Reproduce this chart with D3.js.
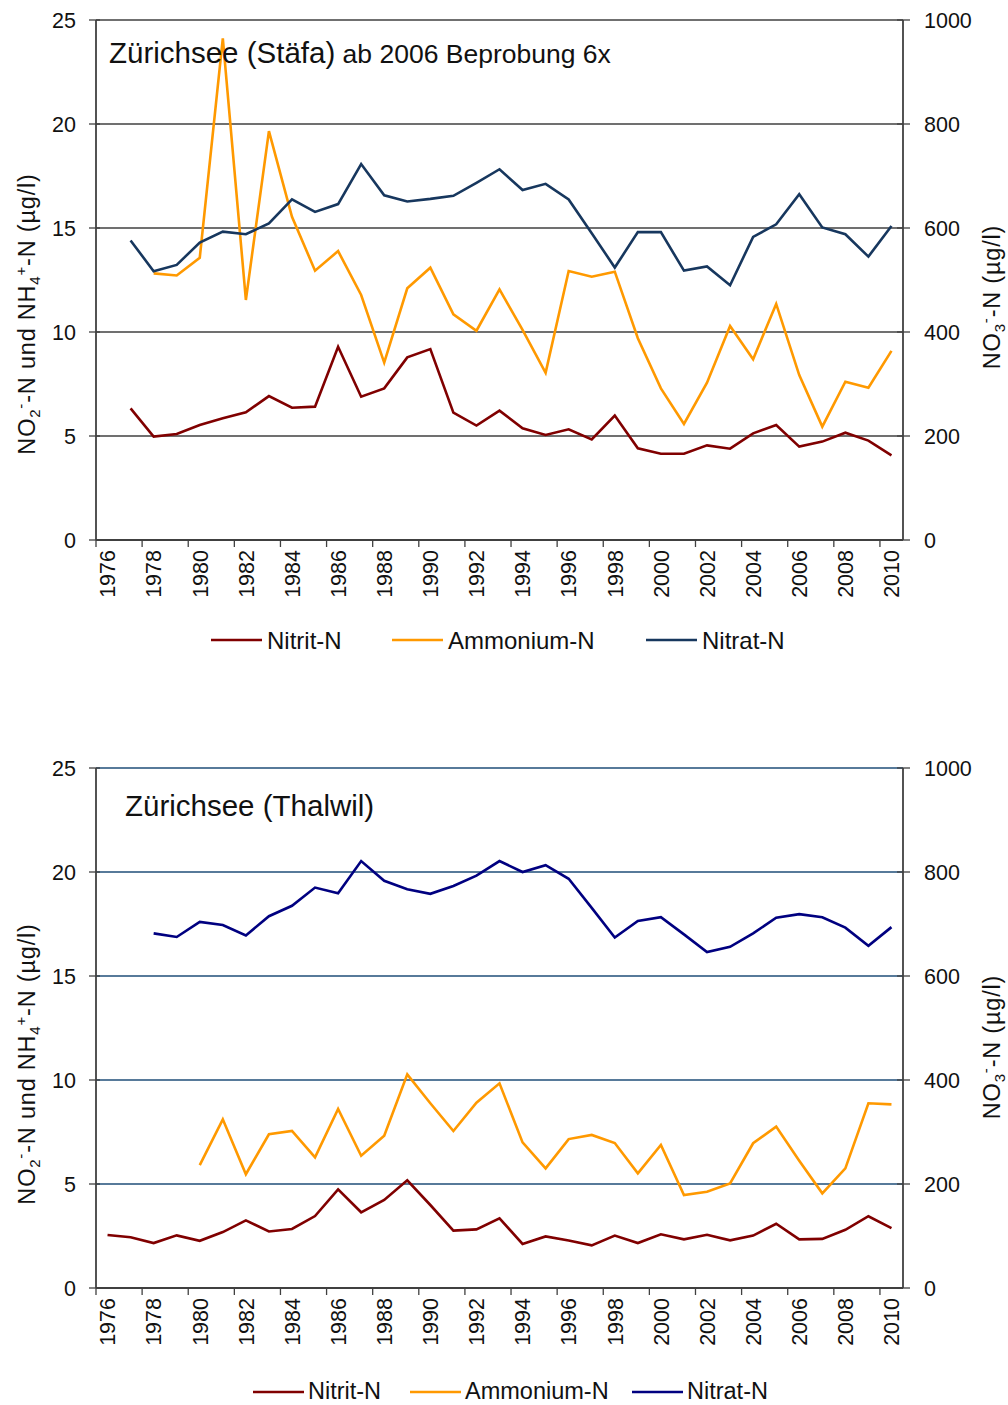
<!DOCTYPE html>
<html>
<head>
<meta charset="utf-8">
<script src="https://cdn.jsdelivr.net/npm/d3@7"></script>
<style>
  html, body { margin: 0; padding: 0; background: #fff; }
  svg { display: block; font-family: "Liberation Sans", Arial, sans-serif; }
</style>
</head>
<body>
<svg id="chart" width="1008" height="1405"></svg>
<script>
// ---------- DATA ----------
const years = [1976,1977,1978,1979,1980,1981,1982,1983,1984,1985,1986,1987,1988,1989,1990,1991,1992,1993,1994,1995,1996,1997,1998,1999,2000,2001,2002,2003,2004,2005,2006,2007,2008,2009,2010];
const yearLabels = [1976,1978,1980,1982,1984,1986,1988,1990,1992,1994,1996,1998,2000,2002,2004,2006,2008,2010];
const leftTicks = [0,5,10,15,20,25];
const rightTicks = [0,200,400,600,800,1000];
const seriesNames = ["Nitrit-N","Ammonium-N","Nitrat-N"];

// Zürichsee (Stäfa)
const staefaNitrit = [null,6.33,4.97,5.10,5.53,5.85,6.14,6.92,6.36,6.41,9.29,6.89,7.29,8.78,9.18,6.12,5.50,6.22,5.37,5.05,5.32,4.84,5.98,4.41,4.15,4.15,4.55,4.39,5.13,5.53,4.49,4.73,5.16,4.78,4.07];
const staefaAmmonium = [null,null,12.82,12.72,13.57,24.12,11.54,19.66,15.54,12.95,13.89,11.78,8.53,12.10,13.09,10.85,10.06,12.05,10.1,8.04,12.93,12.66,12.90,9.70,7.29,5.58,7.56,10.29,8.69,11.35,7.93,5.45,7.61,7.32,9.09];
const staefaNitrat = [null,576,517,529,572,593,588,609,655,631,646,723,663,651,656,662,687,713,673,685,655,590,524,592,592,518,526,490,583,607,665,601,588,545,604];

// Zürichsee (Thalwil)
const thalwilNitrit = [2.55,2.44,2.16,2.53,2.27,2.69,3.25,2.72,2.84,3.46,4.74,3.64,4.23,5.18,3.99,2.76,2.82,3.35,2.12,2.48,2.28,2.05,2.52,2.16,2.58,2.34,2.56,2.29,2.52,3.09,2.34,2.36,2.80,3.45,2.88];
const thalwilAmmonium = [null,null,null,null,5.91,8.11,5.47,7.39,7.55,6.28,8.61,6.36,7.32,10.27,8.88,7.55,8.91,9.84,7.00,5.75,7.16,7.36,6.97,5.51,6.88,4.47,4.63,5.03,6.96,7.76,6.12,4.55,5.75,8.88,8.83];
const thalwilNitrat = [null,null,682,675,704,698,678,715,735,770,759,821,783,767,758,773,793,821,800,813,787,731,674,706,713,680,646,656,682,712,719,713,693,658,694];

// ---------- DRAW ----------
const svg = d3.select("#chart");
const axisColor = "#404040";
const tickFont = 21.5;

function panel(cfg) {
  const g = svg.append("g");
  const x = d3.scaleBand().domain(years).range([96, 903]).padding(0);
  const yL = d3.scaleLinear().domain([0, 25]).range([cfg.bottom, cfg.top]);
  const yR = d3.scaleLinear().domain([0, 1000]).range([cfg.bottom, cfg.top]);
  const cx = yr => x(yr) + x.bandwidth() / 2;

  // gridlines
  g.append("g").selectAll("line").data(leftTicks.filter(t => t > 0)).join("line")
    .attr("x1", 96).attr("x2", 903)
    .attr("y1", d => yL(d)).attr("y2", d => yL(d))
    .attr("stroke", cfg.gridColor).attr("stroke-width", 1.3);

  // lines
  const series = [
    {vals: cfg.nitrit, scale: yL, color: "#800000"},
    {vals: cfg.ammonium, scale: yL, color: "#FF9900"},
    {vals: cfg.nitrat, scale: yR, color: cfg.nitratColor}
  ];
  series.forEach(s => {
    const line = d3.line()
      .defined(d => d.v != null)
      .x(d => cx(d.yr))
      .y(d => s.scale(d.v));
    g.append("path")
      .datum(years.map((yr, i) => ({yr, v: s.vals[i]})))
      .attr("d", line)
      .attr("fill", "none")
      .attr("stroke", s.color)
      .attr("stroke-width", 2.6)
      .attr("stroke-linejoin", "miter");
  });

  // axes lines
  g.append("line").attr("x1", 96).attr("x2", 96).attr("y1", cfg.top).attr("y2", cfg.bottom)
    .attr("stroke", axisColor).attr("stroke-width", 1.8);
  g.append("line").attr("x1", 903).attr("x2", 903).attr("y1", cfg.top).attr("y2", cfg.bottom)
    .attr("stroke", axisColor).attr("stroke-width", 1.8);
  g.append("line").attr("x1", 96).attr("x2", 903).attr("y1", cfg.bottom).attr("y2", cfg.bottom)
    .attr("stroke", axisColor).attr("stroke-width", 1.8);

  // left ticks & labels
  g.append("g").selectAll("line").data(leftTicks).join("line")
    .attr("x1", 89).attr("x2", 100).attr("y1", d => yL(d)).attr("y2", d => yL(d))
    .attr("stroke", axisColor).attr("stroke-width", 1.3);
  g.append("g").selectAll("text").data(leftTicks).join("text")
    .attr("x", 76).attr("y", d => yL(d)).attr("dy", "0.36em")
    .attr("text-anchor", "end").attr("font-size", tickFont)
    .attr("fill", "#111").text(d => d);

  // right ticks & labels
  g.append("g").selectAll("line").data(rightTicks).join("line")
    .attr("x1", 897).attr("x2", 910).attr("y1", d => yR(d)).attr("y2", d => yR(d))
    .attr("stroke", axisColor).attr("stroke-width", 1.3);
  g.append("g").selectAll("text").data(rightTicks).join("text")
    .attr("x", 924).attr("y", d => yR(d)).attr("dy", "0.36em")
    .attr("text-anchor", "start").attr("font-size", tickFont)
    .attr("fill", "#111").text(d => d);

  // x ticks (category boundaries, every 2 years)
  g.append("g").selectAll("line").data(yearLabels).join("line")
    .attr("x1", d => x(d)).attr("x2", d => x(d))
    .attr("y1", cfg.bottom).attr("y2", cfg.bottom + 7)
    .attr("stroke", axisColor).attr("stroke-width", 1.3);
  g.append("g").selectAll("text").data(yearLabels).join("text")
    .attr("transform", d => `translate(${cx(d)},${cfg.bottom + 10}) rotate(-90)`)
    .attr("dy", "0.36em")
    .attr("text-anchor", "end").attr("font-size", tickFont)
    .attr("fill", "#111").text(d => d);

  // title
  const t = g.append("text").attr("x", cfg.titleX).attr("y", cfg.titleY).attr("fill", "#111");
  t.append("tspan").attr("font-size", 29.5).text(cfg.title);
  if (cfg.subtitle) t.append("tspan").attr("font-size", 26.5).text(cfg.subtitle);

  // left axis title
  const lt = g.append("text")
    .attr("transform", `translate(${cfg.leftTitleX},${cfg.leftTitleY}) rotate(-90)`)
    .attr("text-anchor", "middle").attr("font-size", 23.5).attr("letter-spacing", "0.8px").attr("fill", "#111");
  lt.append("tspan").text("NO");
  lt.append("tspan").attr("font-size", 15).attr("dy", 5).text("2");
  lt.append("tspan").attr("font-size", 15).attr("dy", -14).text("-");
  lt.append("tspan").attr("dy", 9).text("-N und NH");
  lt.append("tspan").attr("font-size", 15).attr("dy", 5).text("4");
  lt.append("tspan").attr("font-size", 15).attr("dy", -14).text("+");
  lt.append("tspan").attr("dy", 9).text("-N (µg/l)");

  // right axis title
  const rt = g.append("text")
    .attr("transform", `translate(${cfg.rightTitleX},${cfg.rightTitleY}) rotate(-90)`)
    .attr("text-anchor", "middle").attr("font-size", 23.5).attr("letter-spacing", "0.8px").attr("fill", "#111");
  rt.append("tspan").text("NO");
  rt.append("tspan").attr("font-size", 15).attr("dy", 5).text("3");
  rt.append("tspan").attr("font-size", 15).attr("dy", -14).text("-");
  rt.append("tspan").attr("dy", 9).text("-N (µg/l)");

  // legend
  const colors = ["#800000", "#FF9900", cfg.nitratColor];
  const lg = g.append("g");
  seriesNames.forEach((name, i) => {
    const lx = cfg.legendX[i];
    lg.append("line").attr("x1", lx).attr("x2", lx + 51)
      .attr("y1", cfg.legendY).attr("y2", cfg.legendY)
      .attr("stroke", colors[i]).attr("stroke-width", 2.6);
    lg.append("text").attr("x", lx + cfg.legendGap).attr("y", cfg.legendTextY)
      .attr("font-size", cfg.legendFont).attr("fill", "#111").text(name);
  });
}

panel({
  top: 20, bottom: 540,
  gridColor: "#404040", nitratColor: "#17375E",
  nitrit: staefaNitrit, ammonium: staefaAmmonium, nitrat: staefaNitrat,
  title: "Zürichsee (Stäfa)", subtitle: " ab 2006 Beprobung 6x", titleX: 109, titleY: 63,
  leftTitleX: 35, leftTitleY: 314, rightTitleX: 1000, rightTitleY: 297,
  legendX: [211, 392, 646], legendY: 640, legendTextY: 648.5, legendGap: 56, legendFont: 24
});

panel({
  top: 768, bottom: 1288,
  gridColor: "#1F4E79", nitratColor: "#000080",
  nitrit: thalwilNitrit, ammonium: thalwilAmmonium, nitrat: thalwilNitrat,
  title: "Zürichsee (Thalwil)", subtitle: null, titleX: 125, titleY: 816,
  leftTitleX: 35, leftTitleY: 1064, rightTitleX: 1000, rightTitleY: 1047,
  legendX: [253, 410, 632], legendY: 1392, legendTextY: 1399, legendGap: 55, legendFont: 23.5
});
</script>
</body>
</html>
